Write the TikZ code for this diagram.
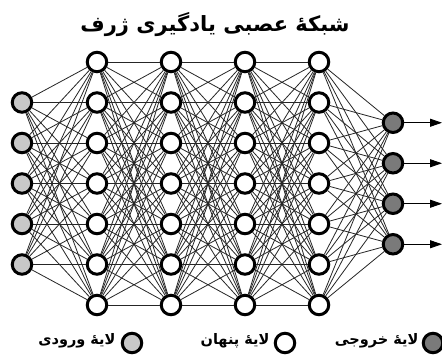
\documentclass[tikz,border=0pt]{standalone}
\usepackage{fontspec}
\TeXXeTstate=1
\newfontfamily\arabicfont[Script=Arabic]{DejaVu Sans}
\usetikzlibrary{arrows.meta}
\begin{document}
\begin{tikzpicture}[x=1pt,y=-1pt,
  neuron/.style={circle,draw=black,line width=3pt,minimum size=19.5pt,inner sep=0pt,fill=white},
  innode/.style={neuron,fill=inputgray},
  outnode/.style={neuron,fill=outputgray},
  link/.style={draw=black!85,line width=0.8pt},
  outarrow/.style={draw=black,line width=0.9pt,-{Triangle[length=12pt,width=8pt]}},
  titletext/.style={font=\arabicfont\bfseries\fontsize{21}{24}\selectfont},
  legtext/.style={font=\arabicfont\bfseries\fontsize{14.5}{16}\selectfont,anchor=east}]
\definecolor{inputgray}{RGB}{200,200,200}
\definecolor{outputgray}{RGB}{122,122,122}
\useasboundingbox (0,0) rectangle (442,356);
\fill[white] (0,0) rectangle (442,356);
\node[titletext] (title) at (215,25) {\beginR شبکهٔ عصبی یادگیری ژرف\endR};
% input layer
\foreach \i in {1,...,5} {
  \node[innode] (in\i) at (22,{62+40.5*\i}) {};
}
% hidden layers
\foreach \l/\x in {1/97,2/171,3/245,4/319} {
  \foreach \j in {0,...,6} {
    \node[neuron] (h\l-\j) at (\x,{62+40.5*\j}) {};
  }
}
% output layer
\foreach \k in {1,...,4} {
  \node[outnode] (out\k) at (393,{62+40.5*(\k+0.5)}) {};
  \coordinate (end\k) at (442,{62+40.5*(\k+0.5)});
}
% connections
\foreach \i in {1,...,5} \foreach \j in {0,...,6} \draw[link] (in\i) -- (h1-\j);
\foreach \a/\b in {1/2,2/3,3/4} \foreach \i in {0,...,6} \foreach \j in {0,...,6} \draw[link] (h\a-\i) -- (h\b-\j);
\foreach \i in {0,...,6} \foreach \k in {1,...,4} \draw[link] (h4-\i) -- (out\k);
\foreach \k in {1,...,4} \draw[outarrow] (out\k) -- (end\k);
% legend
\node[innode] (leg1) at (132,343) {};
\node[legtext] (legt1) at (119,341) {\beginR لایهٔ ورودی\endR};
\node[neuron] (leg2) at (285,343) {};
\node[legtext] (legt2) at (273,341) {\beginR لایهٔ پنهان\endR};
\node[outnode] (leg3) at (433,343) {};
\node[legtext] (legt3) at (422,341) {\beginR لایهٔ خروجی\endR};
\end{tikzpicture}
\end{document}
